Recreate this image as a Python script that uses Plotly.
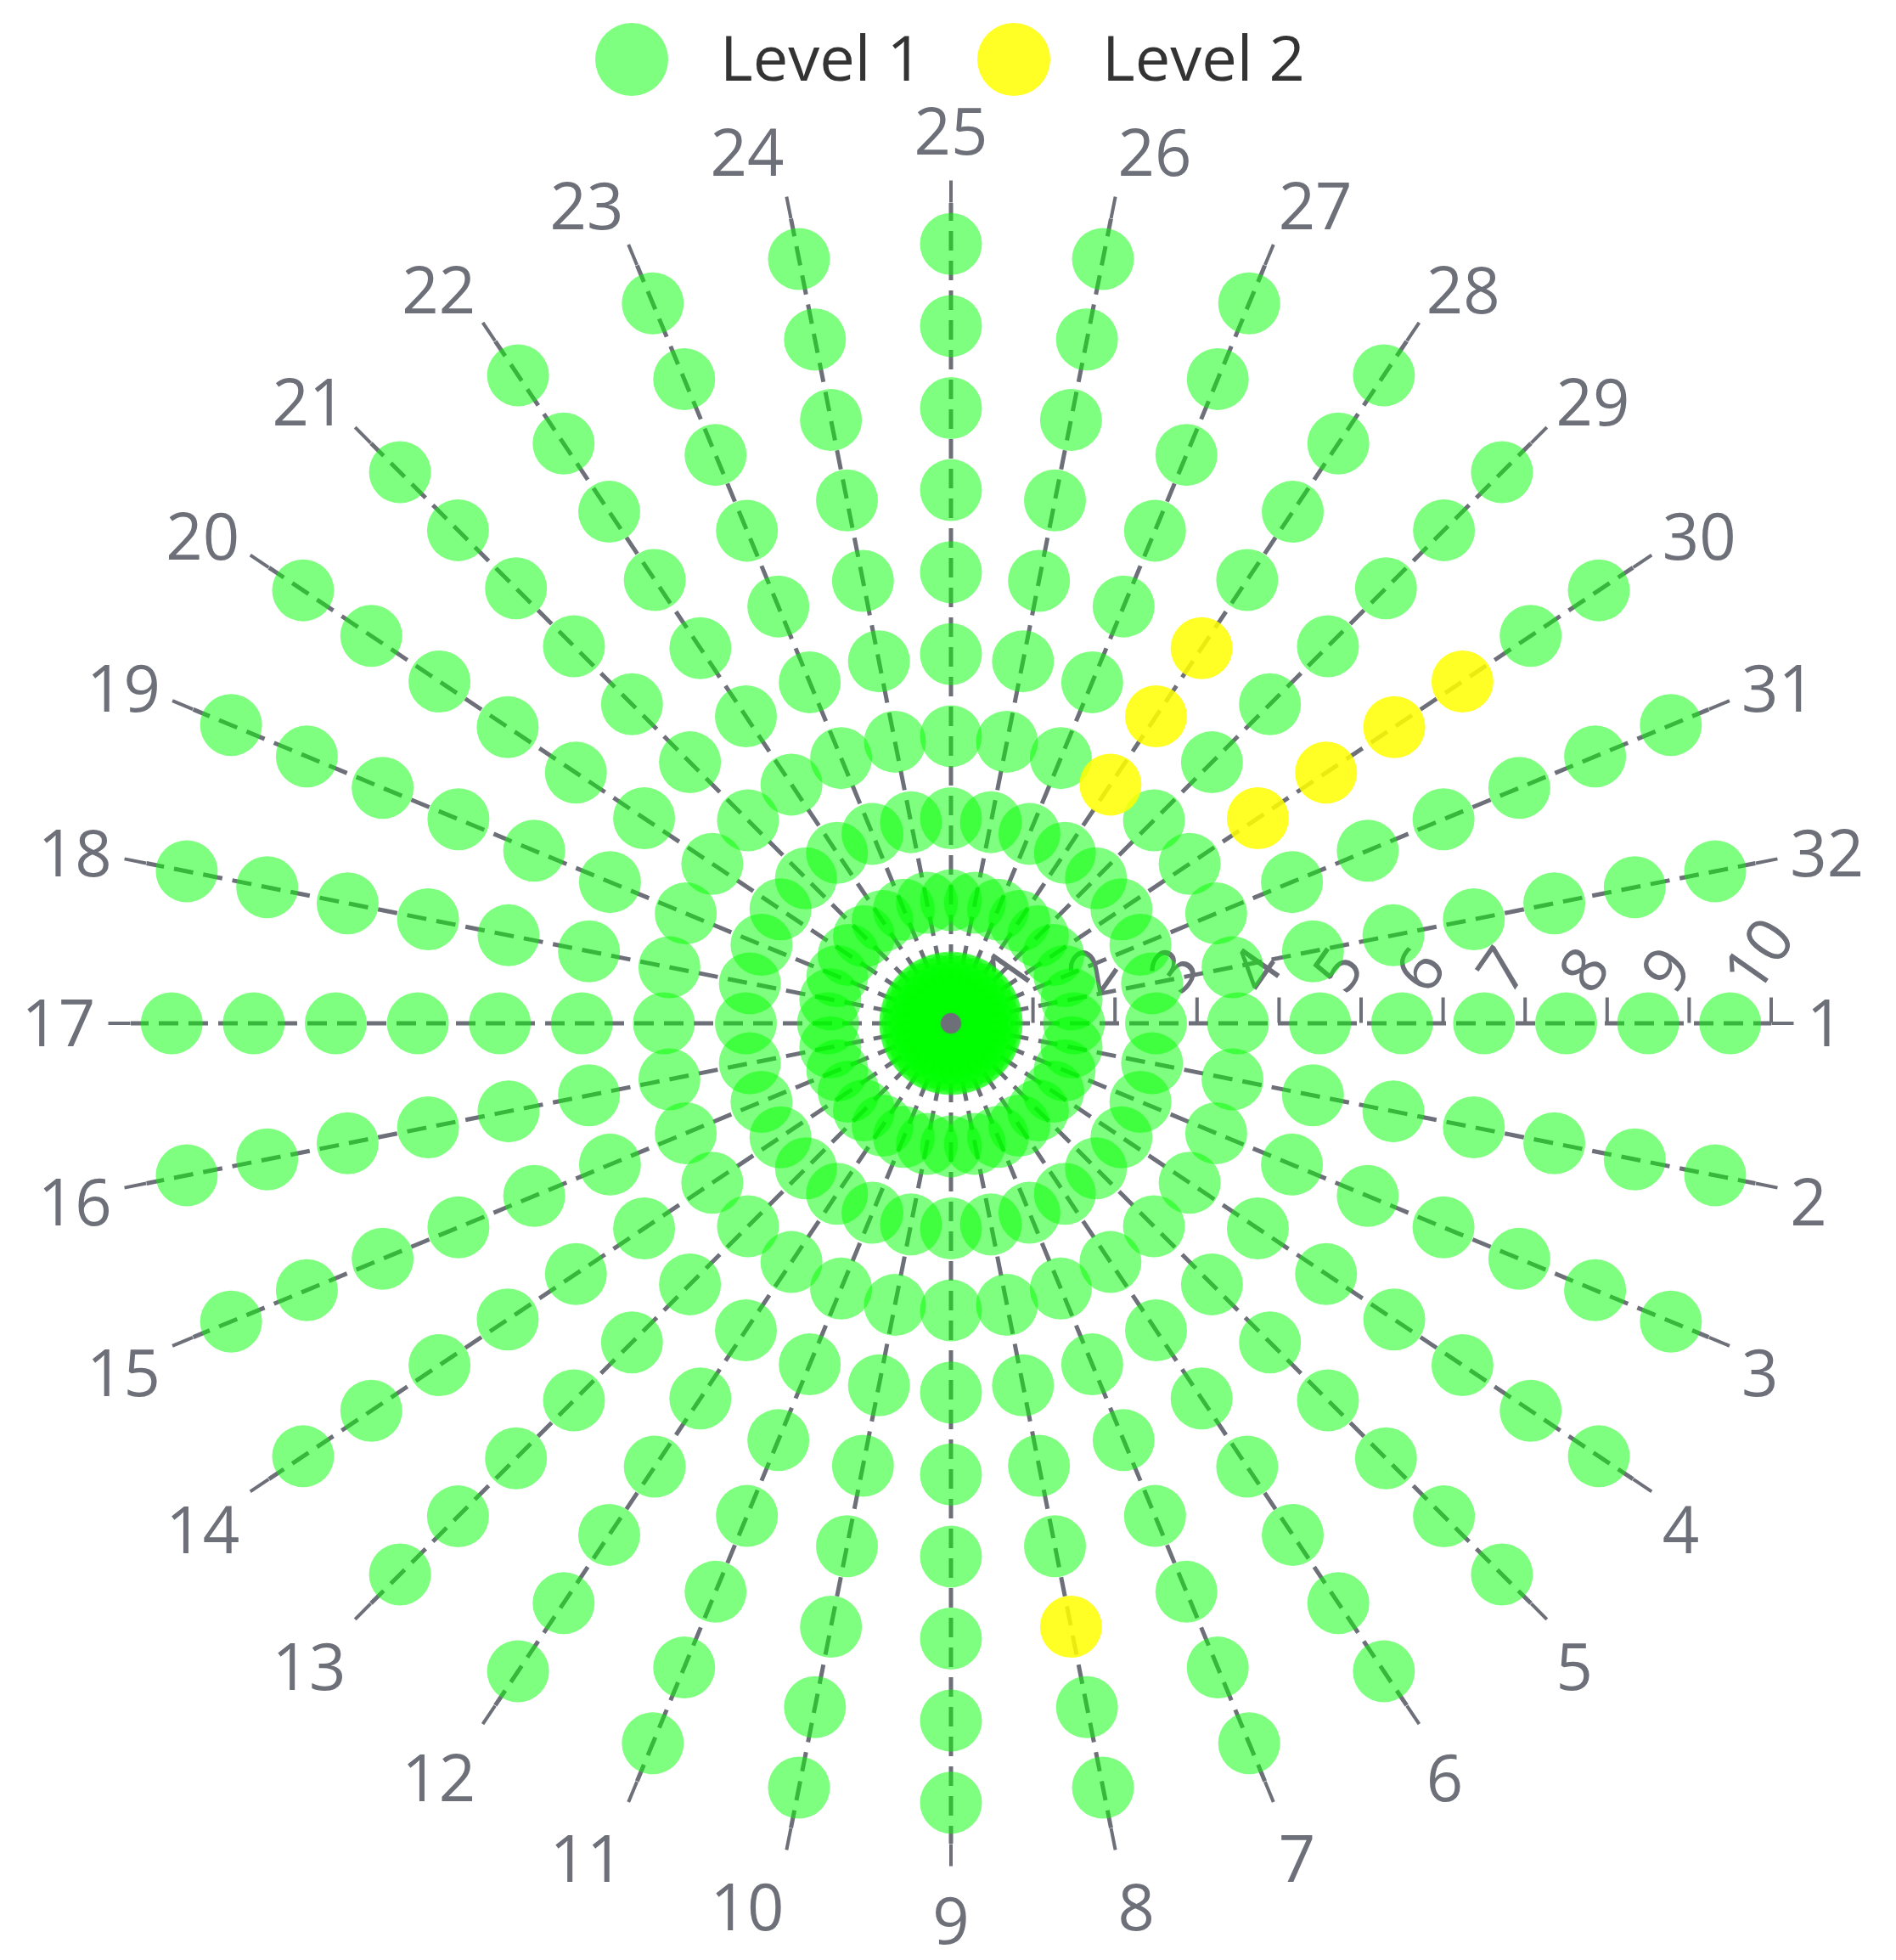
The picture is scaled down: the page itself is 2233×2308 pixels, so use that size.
import plotly.graph_objects as go

# categories
angle_labels = ["1", "2", "3", "4", "5", "6", "7", "8", "9", "10", "11", "12", "13", "14", "15", "16",
                "17", "18", "19", "20", "21", "22", "23", "24", "25", "26", "27", "28", "29", "30", "31", "32"]
radius_labels = ["1", "2", "3", "4", "5", "6", "7", "8", "9", "10"]

# Level 2 points (angle category, radius category); every other grid cell is Level 1
level2_theta = ["28", "28", "28", "30", "30", "30", "30", "8"]
level2_r = ["4", "5", "6", "5", "6", "7", "8", "8"]

series_names = ["Level 1", "Level 2"]
series_colors = ["rgba(0,255,0,0.5)", "rgba(255,255,0,0.85)"]

level2_set = set(zip(level2_theta, level2_r))
level1_theta, level1_r = [], []
for a in angle_labels:
    for r in radius_labels:
        if (a, r) not in level2_set:
            level1_theta.append(a)
            level1_r.append(r)

GRAY = "#6E7079"
FONT = "Open Sans"
W, H = 2233, 2308

fig = go.Figure()
fig.add_trace(go.Scatterpolar(r=level1_r, theta=level1_theta, mode="markers", name=series_names[0],
                              marker=dict(size=73, color="#00ff00", opacity=0.5, line=dict(width=0)),
                              subplot="polar"))
fig.add_trace(go.Scatterpolar(r=level2_r, theta=level2_theta, mode="markers", name=series_names[1],
                              marker=dict(size=73, color="#ffff00", opacity=0.85, line=dict(width=0)),
                              subplot="polar"))
# empty trace so the overlay subplot (boundary ticks) gets drawn
fig.add_trace(go.Scatterpolar(r=[], theta=[], subplot="polar2", showlegend=False))

dom_x = [146 / W, 2078 / W]
dom_y = [145 / H, 2077 / H]

fig.update_layout(
    width=W, height=H,
    margin=dict(l=0, r=0, t=0, b=0),
    paper_bgcolor="white",
    showlegend=False,
    font=dict(family=FONT, color=GRAY),
    polar=dict(
        domain=dict(x=dom_x, y=dom_y),
        bgcolor="rgba(0,0,0,0)",
        angularaxis=dict(
            type="category", categoryarray=angle_labels, direction="clockwise", rotation=0,
            showline=False, showgrid=True, gridcolor=GRAY, gridwidth=5, griddash="23px,12px",
            ticks="outside", ticklen=26, tickwidth=4, tickcolor=GRAY,
            tickfont=dict(size=76, color=GRAY, family=FONT), layer="below traces",
        ),
        radialaxis=dict(
            type="category", categoryarray=radius_labels, range=[-0.5, 9.5], angle=0,
            side="counterclockwise", showgrid=False, showline=False,
            ticks="", tickangle=-55, tickfont=dict(size=74, color=GRAY, family=FONT),
            layer="below traces",
        ),
    ),
    polar2=dict(
        domain=dict(x=dom_x, y=dom_y),
        bgcolor="rgba(0,0,0,0)",
        angularaxis=dict(visible=False, direction="clockwise", rotation=0),
        radialaxis=dict(
            range=[0, 10], angle=0, side="counterclockwise", tickvals=list(range(1, 11)),
            showticklabels=False, showgrid=False, showline=False,
            ticks="outside", ticklen=30, tickwidth=4, tickcolor=GRAY,
        ),
    ),
)

# legend drawn by hand so the symbols can be as large as in the reference
legend_circle_x = [736 / W, 1186 / W]
legend_text_x = [838 / W, 1288 / W]
legend_y = 1 - 62 / H
for name, color, cx, tx in zip(series_names, series_colors, legend_circle_x, legend_text_x):
    fig.add_shape(type="circle", xref="paper", yref="paper", xsizemode="pixel", ysizemode="pixel",
                  xanchor=cx, yanchor=legend_y, x0=-43, x1=43, y0=-43, y1=43,
                  fillcolor=color, line=dict(width=0))
    fig.add_annotation(text=name, xref="paper", yref="paper", x=tx, y=legend_y + 4 / H,
                       xanchor="left", yanchor="middle", showarrow=False,
                       font=dict(size=74, color="#333333", family=FONT))

fig.write_html("out.html")
